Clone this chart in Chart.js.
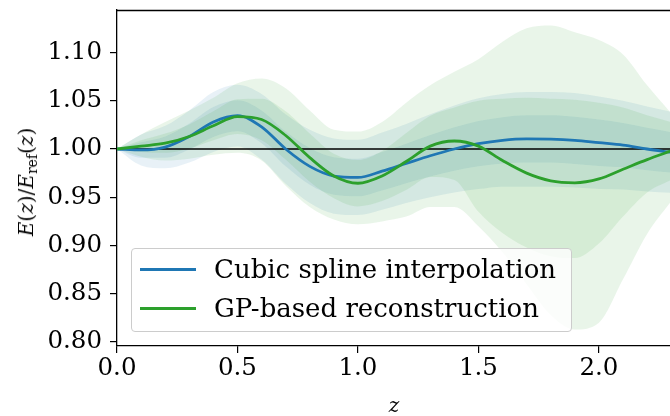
<!DOCTYPE html>
<html>
<head>
<meta charset="utf-8">
<script src="https://cdn.jsdelivr.net/npm/chart.js@4.4.1/dist/chart.umd.min.js"></script>
<style>
  body { margin: 0; background: #fff; }
  #wrap { position: relative; width: 670px; height: 416px; font-family: 'DejaVu Serif', serif; color: #000; }
  #ylabel { position: absolute; left: 27px; top: 182px; transform: translate(-50%, -50%) rotate(-90deg); font-size: 20px; white-space: nowrap; }
  #ylabel sub { font-size: 14px; vertical-align: -4px; }
  #xlabel { position: absolute; left: 394px; top: 405px; transform: translate(-50%, -50%); font-size: 20px; font-style: italic; }
  #legend { position: absolute; left: 131px; top: 248px; width: 441px; height: 84px; box-sizing: border-box;
            border: 1px solid #cccccc; border-radius: 4px; background: rgba(255, 255, 255, 0.8); }
  .swatch { position: absolute; left: 8px; width: 56px; height: 3px; }
  .label { position: absolute; left: 82px; font-size: 26px; line-height: 30px; white-space: nowrap; }
</style>
</head>
<body>
<div id="wrap">
  <canvas id="chart" width="670" height="416"></canvas>
  <div id="ylabel"><i>E</i>(<i>z</i>)/<i>E</i><sub>ref</sub>(<i>z</i>)</div>
  <div id="xlabel">z</div>
  <div id="legend">
    <div class="swatch" style="top: 18.5px; background: #1f77b4;"></div>
    <div class="label" style="top: 5px;">Cubic spline interpolation</div>
    <div class="swatch" style="top: 57.5px; background: #2ca02c;"></div>
    <div class="label" style="top: 44px;">GP-based reconstruction</div>
  </div>
</div>
<script>
// redshift grid
const z = [0.0, 0.1, 0.2, 0.3, 0.4, 0.5, 0.6, 0.7, 0.8, 0.9, 1.0, 1.1,
           1.2, 1.3, 1.4, 1.5, 1.6, 1.7, 1.8, 1.9, 2.0, 2.1, 2.2, 2.3];

const splineMean = [1.000, 0.999, 1.002, 1.013, 1.028, 1.0345, 1.023, 1.000, 0.982, 0.972, 0.9705, 0.977,
                    0.985, 0.993, 1.000, 1.0055, 1.009, 1.0104, 1.0102, 1.009, 1.0065, 1.004, 1.000, 0.9965];
const gpMean = [1.000, 1.003, 1.006, 1.013, 1.024, 1.0335, 1.0305, 1.014, 0.991, 0.972, 0.9645, 0.972,
                0.987, 1.003, 1.0083, 1.003, 0.988, 0.975, 0.967, 0.965, 0.969, 0.979, 0.989, 0.998];

const splineOuterLow = [1.000, 0.983, 0.980, 0.986, 0.997, 1.0025, 0.989, 0.964, 0.944, 0.933, 0.9315, 0.937,
                        0.944, 0.950, 0.955, 0.9585, 0.961, 0.961, 0.961, 0.960, 0.9585, 0.958, 0.956, 0.9545];
const splineOuterHigh = [1.000, 1.015, 1.024, 1.040, 1.059, 1.0665, 1.057, 1.036, 1.020, 1.011, 1.0095, 1.017,
                         1.026, 1.036, 1.045, 1.0525, 1.057, 1.059, 1.059, 1.058, 1.0545, 1.050, 1.044, 1.0385];
const splineInnerLow = [1.000, 0.991, 0.991, 0.9995, 1.0125, 1.0185, 1.006, 0.982, 0.963, 0.9525, 0.951, 0.957,
                        0.9645, 0.9715, 0.9775, 0.982, 0.985, 0.986, 0.986, 0.9845, 0.9825, 0.981, 0.978, 0.9755];
const splineInnerHigh = [1.000, 1.007, 1.013, 1.0265, 1.0435, 1.0505, 1.040, 1.018, 1.001, 0.9915, 0.990, 0.997,
                         1.0055, 1.0145, 1.0225, 1.029, 1.033, 1.035, 1.035, 1.0335, 1.0305, 1.027, 1.022, 1.0175];

const gpOuterLow = [1.000, 0.992, 0.988, 0.990, 0.994, 0.996, 0.988, 0.962, 0.940, 0.927, 0.922, 0.925,
                    0.930, 0.940, 0.940, 0.920, 0.893, 0.860, 0.828, 0.813, 0.820, 0.865, 0.912, 0.946];
const gpOuterHigh = [1.000, 1.015, 1.028, 1.040, 1.053, 1.068, 1.073, 1.063, 1.040, 1.020, 1.018, 1.028,
                     1.048, 1.066, 1.080, 1.093, 1.111, 1.125, 1.128, 1.121, 1.113, 1.098, 1.066, 1.037];
const gpInnerLow = [1.000, 0.997, 0.996, 1.0005, 1.009, 1.0155, 1.009, 0.989, 0.966, 0.949, 0.9405, 0.946,
                    0.9575, 0.971, 0.968, 0.935, 0.913, 0.898, 0.889, 0.887, 0.902, 0.930, 0.955, 0.968];
const gpInnerHigh = [1.000, 1.009, 1.016, 1.0255, 1.039, 1.0515, 1.052, 1.039, 1.016, 0.995, 0.9885, 0.998,
                     1.0165, 1.0345, 1.043, 1.050, 1.052, 1.053, 1.052, 1.051, 1.048, 1.043, 1.035, 1.028];

const xTicks = [0.0, 0.5, 1.0, 1.5, 2.0];
const yTicks = [0.80, 0.85, 0.90, 0.95, 1.00, 1.05, 1.10];

const blue = '#1f77b4';
const green = '#2ca02c';
const tickFont = { family: 'DejaVu Serif', size: 24.5 };

function pontos(valores) {
    return valores.map((v, i) => ({ x: z[i], y: v }));
}

function faixa(low, high, cor, ordem) {
    const base = {
        borderColor: 'transparent',
        borderWidth: 0,
        pointRadius: 0,
        tension: 0.4,
        cubicInterpolationMode: 'monotone',
        order: ordem
    };
    return [
        Object.assign({}, base, { data: pontos(low), fill: false }),
        Object.assign({}, base, { data: pontos(high), fill: '-1', backgroundColor: cor })
    ];
}

function curva(valores, cor, ordem) {
    return {
        data: pontos(valores),
        borderColor: cor,
        borderWidth: 2.8,
        pointRadius: 0,
        cubicInterpolationMode: 'monotone',
        fill: false,
        order: ordem
    };
}

const topBorder = {
    id: 'topBorder',
    afterDatasetsDraw(chart) {
        const { ctx, chartArea } = chart;
        ctx.save();
        ctx.strokeStyle = '#000';
        ctx.lineWidth = 1.3;
        ctx.beginPath();
        ctx.moveTo(chartArea.left, chartArea.top + 0.5);
        ctx.lineTo(chartArea.right, chartArea.top + 0.5);
        ctx.stroke();
        ctx.restore();
    }
};

const datasets = [].concat(
    faixa(splineOuterLow, splineOuterHigh, 'rgba(31, 119, 180, 0.1)', 9),
    faixa(splineInnerLow, splineInnerHigh, 'rgba(31, 119, 180, 0.1)', 8),
    faixa(gpOuterLow, gpOuterHigh, 'rgba(44, 160, 44, 0.1)', 7),
    faixa(gpInnerLow, gpInnerHigh, 'rgba(44, 160, 44, 0.1)', 6),
    [
        { data: [{ x: 0, y: 1 }, { x: 2.3, y: 1 }], borderColor: '#000', borderWidth: 1.5, pointRadius: 0, fill: false, order: 2 },
        curva(splineMean, blue, 1),
        curva(gpMean, green, 0)
    ]
);

new Chart(document.getElementById('chart'), {
    type: 'line',
    data: { datasets: datasets },
    options: {
        responsive: false,
        animation: false,
        devicePixelRatio: 1,
        layout: { padding: { top: 10, right: 0, left: 0, bottom: 0 } },
        plugins: { legend: { display: false }, tooltip: { enabled: false } },
        scales: {
            x: {
                type: 'linear',
                min: 0,
                max: 2.295,
                afterBuildTicks: (s) => { s.ticks = xTicks.map(v => ({ value: v })); },
                afterFit: (s) => { s.height = 70; s.paddingLeft = 0; s.paddingRight = 0; },
                ticks: { color: '#000', font: tickFont, padding: 1, maxRotation: 0, callback: (v) => v.toFixed(1) },
                grid: { drawOnChartArea: false, drawTicks: true, tickLength: 7, color: '#000', lineWidth: 1.2 },
                border: { display: true, color: '#000', width: 1.3 }
            },
            y: {
                min: 0.7959,
                max: 1.144,
                afterBuildTicks: (s) => { s.ticks = yTicks.map(v => ({ value: v })); },
                afterFit: (s) => { s.width = 117; s.paddingTop = 0; s.paddingBottom = 0; },
                ticks: { color: '#000', font: tickFont, padding: 8, callback: (v) => v.toFixed(2) },
                grid: { drawOnChartArea: false, drawTicks: true, tickLength: 7, color: '#000', lineWidth: 1.2 },
                border: { display: true, color: '#000', width: 1.3 }
            }
        }
    },
    plugins: [topBorder]
});
</script>
</body>
</html>
